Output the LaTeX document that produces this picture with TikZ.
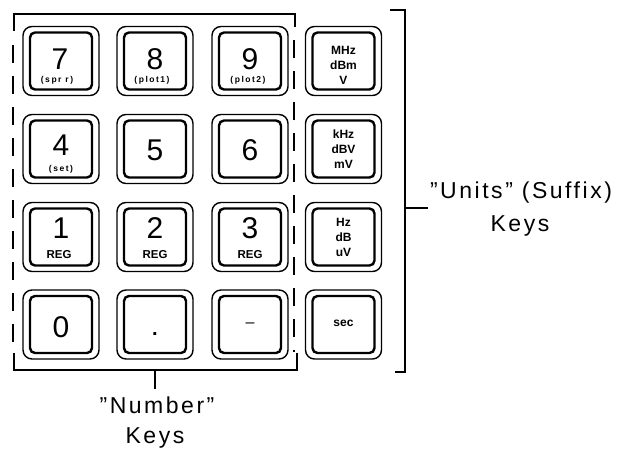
\documentclass[tikz,border=0pt]{standalone}
\usepackage{fontspec}
\setmainfont{Liberation Sans}
\newfontfamily\lblfont[LetterSpace=11]{Liberation Sans}
\newfontfamily\tinyfont[LetterSpace=18]{Liberation Sans}
\begin{document}
\begin{tikzpicture}[x=1pt,y=-1pt,
  keyout/.style={draw, rounded corners=9pt, line width=1.4pt, minimum width=76pt, minimum height=69pt, inner sep=0pt},
  keyin/.style={draw, rounded corners=5pt, line width=2.4pt, minimum width=62pt, minimum height=57pt, inner sep=0pt},
  digit/.style={font=\fontsize{30}{30}\selectfont, inner sep=0pt},
  sublbl/.style={font=\tinyfont\bfseries\fontsize{8.5}{9}\selectfont, inner sep=0pt},
  reglbl/.style={font=\bfseries\fontsize{11.5}{11.5}\selectfont, inner sep=0pt},
  unitlbl/.style={font=\bfseries\fontsize{12}{15}\selectfont, align=center, inner sep=0pt},
  bracket/.style={line width=1.9pt},
  dashbracket/.style={line width=1.9pt, dash pattern=on 18pt off 13pt},
  caption/.style={font=\lblfont\fontsize{23}{23}\selectfont, inner sep=0pt}]
\useasboundingbox (0,0) rectangle (633,448);

% keys
\foreach \n/\x/\y in {k7/61/61, k8/155/61, k9/250/61, kA/343.5/61,
                      k4/61/149, k5/155/149, k6/250/149, kB/343.5/149,
                      k1/61/237, k2/155/237, k3/250/237, kC/343.5/237,
                      k0/61/324.5, kd/155/324.5, km/250/324.5, kD/343.5/324.5}{
  \node[keyout] (\n-o) at (\x,\y) {};
  \node[keyin] (\n-i) at (\n-o) {};
}

% digits
\node[digit] (t7) at (60,59) {7};
\node[digit] (t8) at (155,59) {8};
\node[digit] (t9) at (250,59) {9};
\node[sublbl] (s7) at (57,80) {(spr r)};
\node[sublbl] (s8) at (152,80) {(plot1)};
\node[sublbl] (s9) at (248,80) {(plot2)};

\node[digit] (t4) at (61,145) {4};
\node[sublbl] (s4) at (61,169) {(set)};
\node[digit] (t5) at (155,150) {5};
\node[digit] (t6) at (250,150) {6};

\node[digit] (t1) at (61,228) {1};
\node[digit] (t2) at (155,228) {2};
\node[digit] (t3) at (250,228) {3};
\node[reglbl] (r1) at (59,255) {REG};
\node[reglbl] (r2) at (155,255) {REG};
\node[reglbl] (r3) at (250,255) {REG};

\node[digit] (t0) at (61,327) {0};
\node[font=\bfseries\fontsize{20}{20}\selectfont, inner sep=0pt] (tdot) at (155,334) {.};
\node[font=\fontsize{16}{16}\selectfont, inner sep=0pt] (tminus) at (250,325) {–};

% units
\node[unitlbl] (uA) at (343.5,65) {MHz\\dBm\\V};
\node[unitlbl] (uB) at (343.5,149) {kHz\\dBV\\mV};
\node[unitlbl] (uC) at (343.5,237) {Hz\\dB\\uV};
\node[unitlbl] (uD) at (343.5,323) {sec};

% number bracket
\draw[bracket] (14,31) -- (14,14) -- (295,14) -- (295,27);
\draw[dashbracket] (13,45) -- (13,352);
\draw[dashbracket] (294,40) -- (294,352);
\draw[bracket] (14,353) -- (14,370) -- (297,370) -- (297,353);
\coordinate (nbm) at (155,370);
\coordinate (nbe) at (155,389);
\draw[bracket] (nbm) -- (nbe);
\node[caption] (num) at (157,405) {”Number”};
\node[caption] (numk) at (155,438) {Keys};

% units bracket
\draw[bracket] (390,10) -- (405,10) -- (405,372) -- (395,372);
\coordinate (ubm) at (405,208);
\coordinate (ube) at (428,208);
\draw[bracket] (ubm) -- (ube);
\node[caption] (uni) at (521,193) {”Units” (Suffix)};
\node[caption] (unik) at (520,226) {Keys};
\end{tikzpicture}
\end{document}
